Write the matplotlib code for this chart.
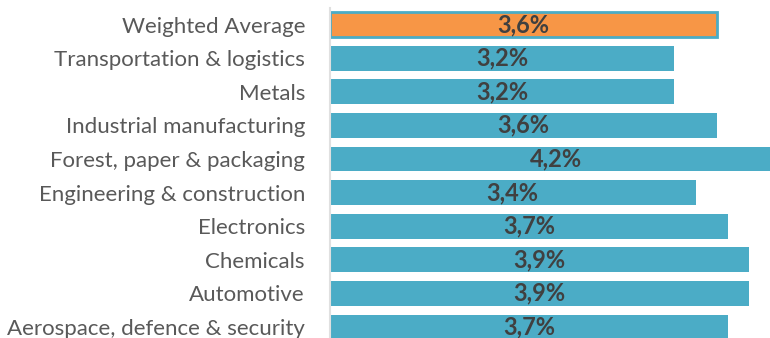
import matplotlib.pyplot as plt

categories = [
    "Aerospace, defence & security",
    "Automotive",
    "Chemicals",
    "Electronics",
    "Engineering & construction",
    "Forest, paper & packaging",
    "Industrial manufacturing",
    "Metals",
    "Transportation & logistics",
    "Weighted Average",
]
values = [3.7, 3.9, 3.9, 3.7, 3.4, 4.2, 3.6, 3.2, 3.2, 3.6]
highlight = "Weighted Average"

BLUE = "#4BACC6"
ORANGE = "#F79646"

fig = plt.figure(figsize=(7.7, 3.38), dpi=100)
ax = fig.add_axes([330 / 770, 0, 440 / 770, 1])

ypos = list(range(len(categories)))
colors = [ORANGE if c == highlight else BLUE for c in categories]
bars = ax.barh(ypos, values, height=0.74, color=colors, zorder=2)
for bar, cat in zip(bars, categories):
    if cat == highlight:
        bar.set_edgecolor(BLUE)
        bar.set_linewidth(2)

# labels sit in the middle of each bar (the chart is cropped on the right)
for y, v in zip(ypos, values):
    ax.text(v / 2, y, f"{v:.1f}%".replace(".", ","), ha="center", va="center",
            fontsize=17, fontweight="bold", color="#404040", family="Lato")

ax.set_xlim(0, 440 / 107.5)
ax.set_ylim(-11 / 33.6, 9 + 24.5 / 33.6)
ax.set_yticks(ypos)
ax.set_yticklabels(categories, fontsize=16, color="#595959", family="Lato")
ax.tick_params(axis="y", length=0, pad=18)
ax.set_xticks([])

for side in ["top", "right", "bottom"]:
    ax.spines[side].set_visible(False)
ax.spines["left"].set_color("#E0E0E0")
ax.spines["left"].set_linewidth(1.5)
ax.spines["left"].set_bounds(-0.4, 9 + 16.5 / 33.6)

plt.savefig("out.png", dpi=100)
plt.close()
